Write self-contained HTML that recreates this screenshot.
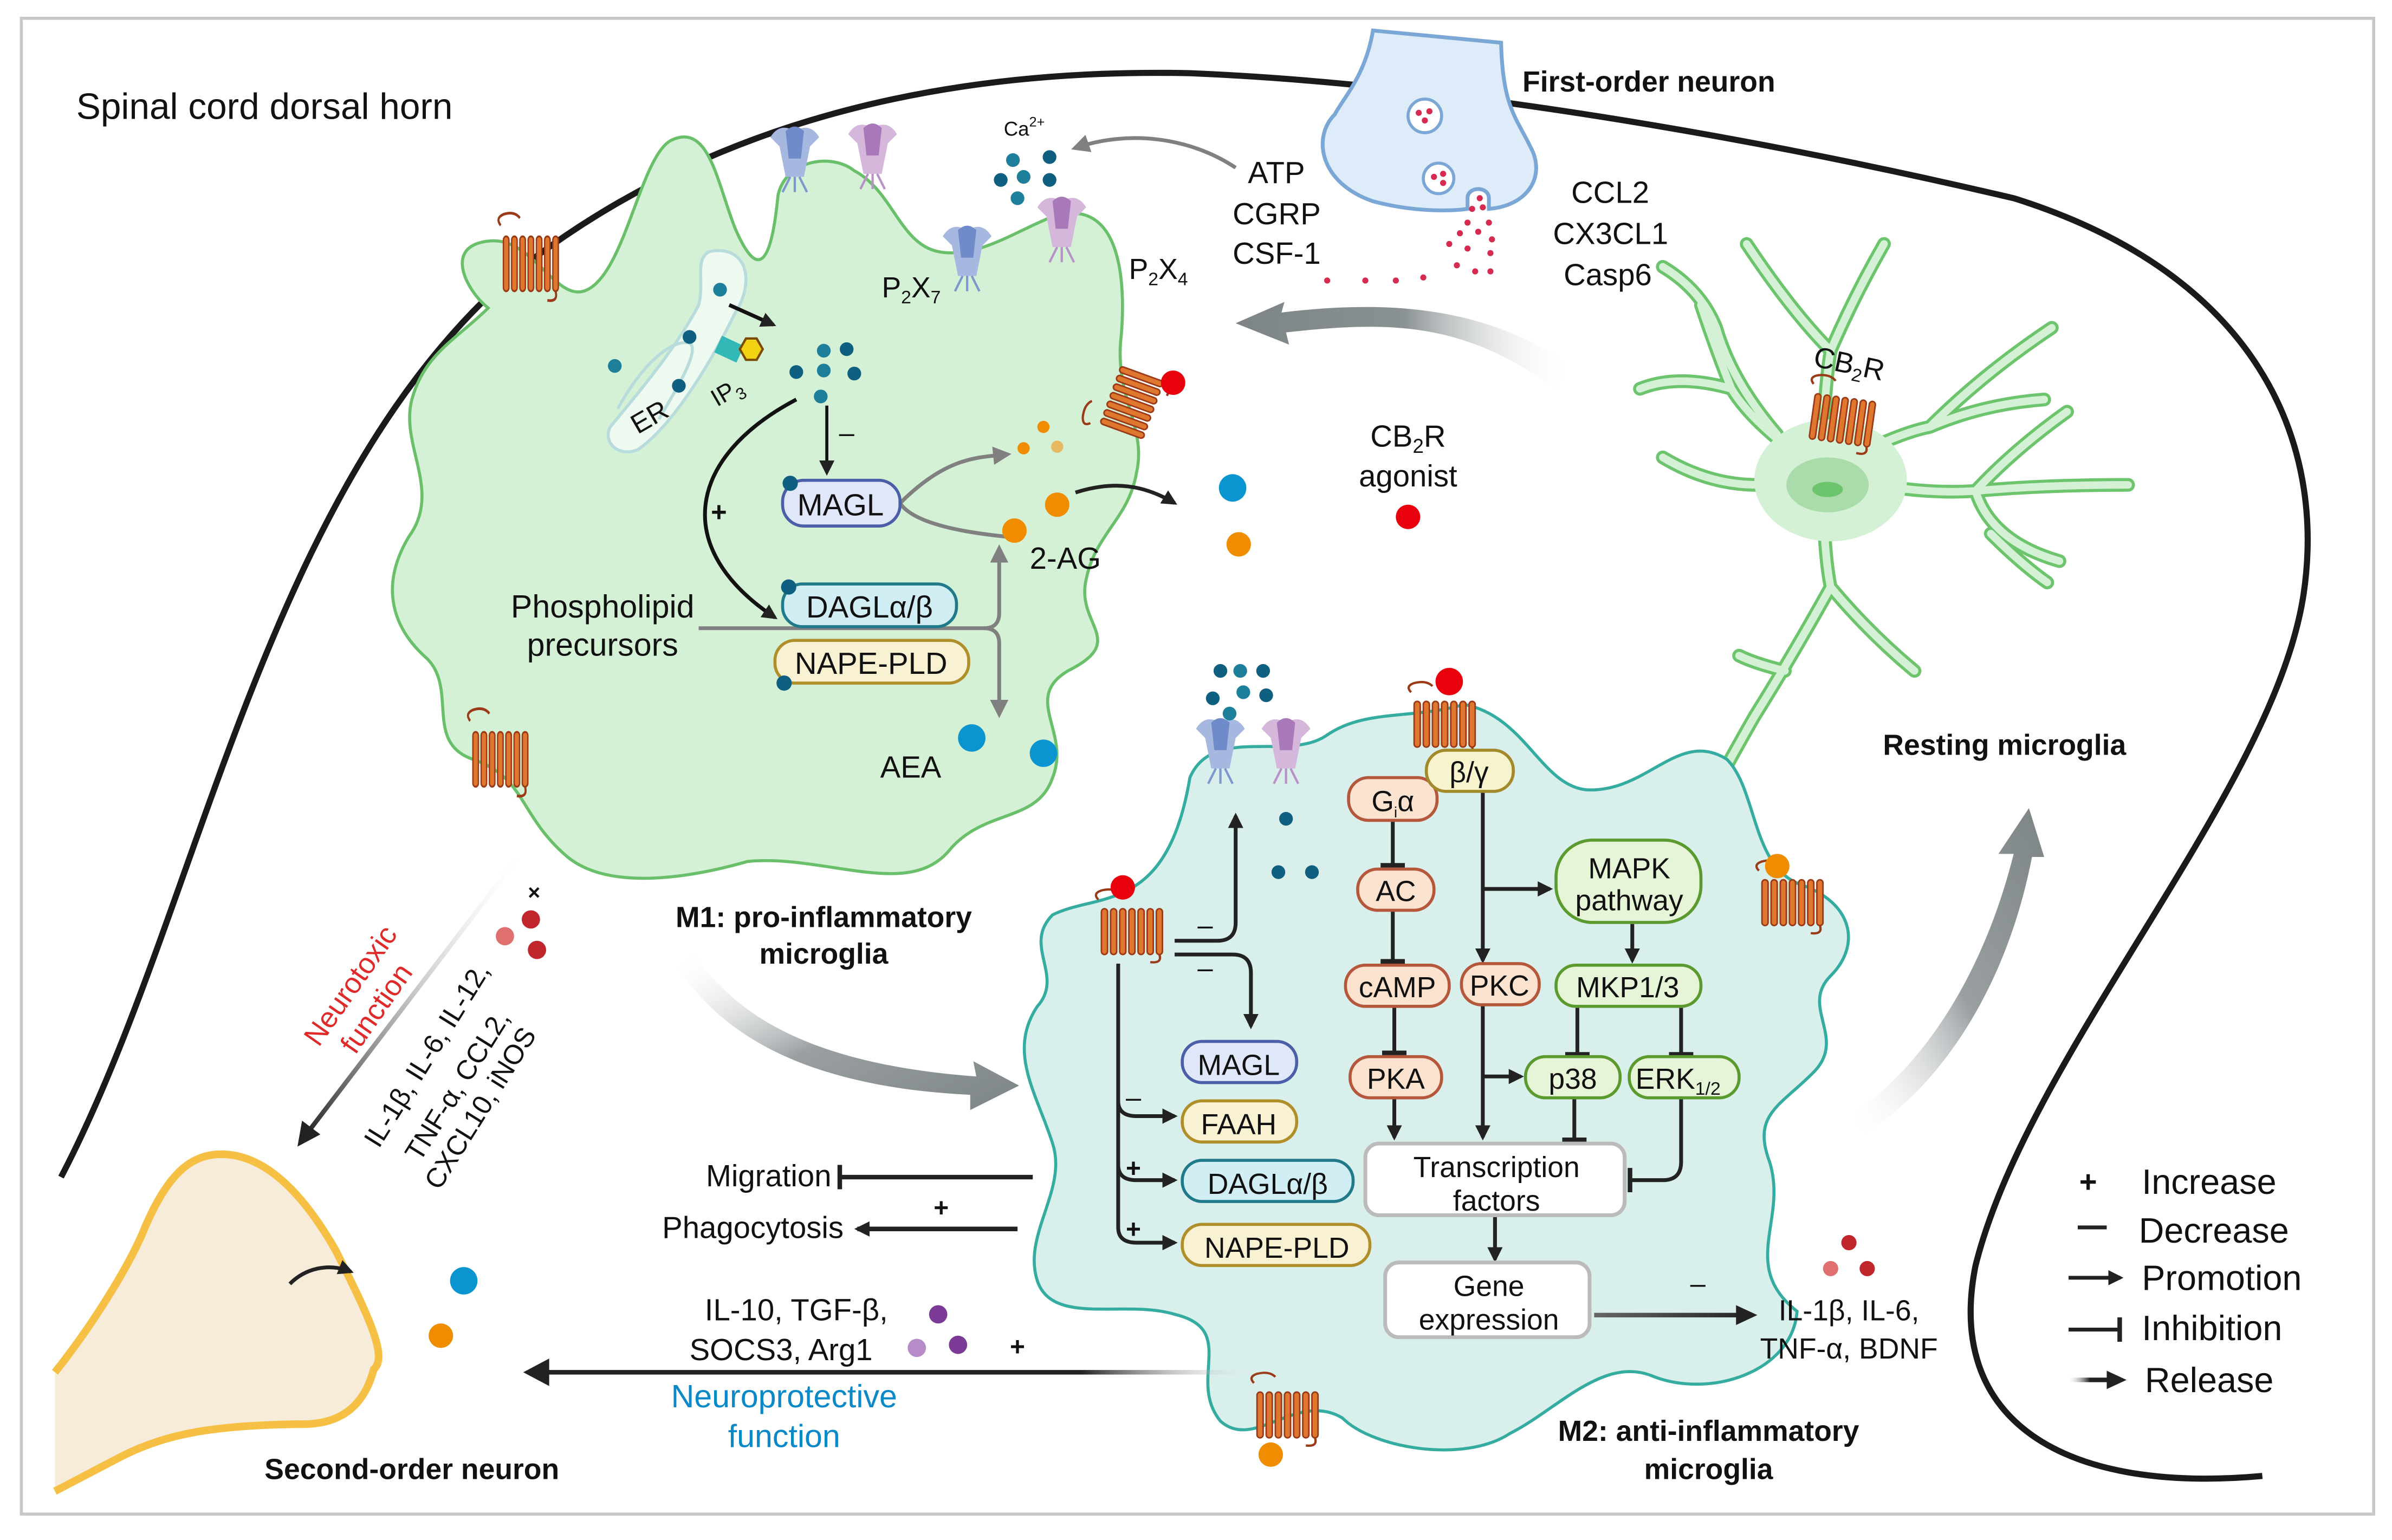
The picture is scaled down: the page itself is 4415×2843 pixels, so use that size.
<!DOCTYPE html>
<html><head><meta charset="utf-8"><style>
html,body{margin:0;padding:0;background:#fff}
svg{display:block}
text{font-family:"Liberation Sans Narrow","Liberation Sans",sans-serif;fill:#111}
.b{font-weight:bold}
</style></head><body>
<svg width="4415" height="2843" viewBox="0 0 1568 1010" preserveAspectRatio="none" xmlns="http://www.w3.org/2000/svg">
<defs>
<g id="gpcr">
<path d="M-2,-6 q-4,-4 2,-6 q8,-2 12,2" fill="none" stroke="#9a3a17" stroke-width="1.5"/>
<g fill="#e0772f" stroke="#9a3a17" stroke-width="1">
<rect x="0" y="0" width="4" height="30" rx="2"/><rect x="6" y="0" width="4" height="30" rx="2"/>
<rect x="12" y="0" width="4" height="30" rx="2"/><rect x="18" y="0" width="4" height="30" rx="2"/>
<rect x="24" y="0" width="4" height="30" rx="2"/><rect x="30" y="0" width="4" height="30" rx="2"/>
<rect x="36" y="0" width="4" height="30" rx="2"/>
</g>
<path d="M38,30 q2,6 -6,5" fill="none" stroke="#9a3a17" stroke-width="1.5"/>
</g>
<g id="p2b">
<path d="M-16,-10 q6,-10 16,-4 q10,-6 16,4 l-6,6 l-4,20 h-12 l-4,-20z" fill="#a7b8e0"/>
<path d="M-6,-14 q6,-6 12,0 l-2,18 h-8z" fill="#6f8bc9"/>
<path d="M-3,16 l-5,10 M0,16 l0,10 M3,16 l5,10" stroke="#7d97cf" stroke-width="1.5"/>
</g>
<g id="p2p">
<path d="M-16,-10 q6,-10 16,-4 q10,-6 16,4 l-6,6 l-4,20 h-12 l-4,-20z" fill="#d5b7dc"/>
<path d="M-6,-14 q6,-6 12,0 l-2,18 h-8z" fill="#a878b8"/>
<path d="M-3,16 l-5,10 M0,16 l0,10 M3,16 l5,10" stroke="#b892c6" stroke-width="1.5"/>
</g>
<marker id="ah" markerWidth="10" markerHeight="10" refX="8" refY="5" orient="auto" markerUnits="userSpaceOnUse"><path d="M0,0 L10,5 L0,10z" fill="#222"/></marker>
<marker id="ahg" markerWidth="12" markerHeight="12" refX="9" refY="6" orient="auto" markerUnits="userSpaceOnUse"><path d="M0,0 L12,6 L0,12z" fill="#808080"/></marker>
<marker id="tb" markerWidth="4" markerHeight="16" refX="2" refY="8" orient="auto" markerUnits="userSpaceOnUse"><rect x="0" y="0" width="3" height="16" fill="#222"/></marker>
<linearGradient id="g1" x1="0" y1="0" x2="1" y2="0"><stop offset="0" stop-color="#7d8486"/><stop offset="0.5" stop-color="#8a9193"/><stop offset="1" stop-color="#fff" stop-opacity="0"/></linearGradient>
<linearGradient id="g2" x1="0" y1="0" x2="1" y2="1"><stop offset="0" stop-color="#fff" stop-opacity="0"/><stop offset="0.5" stop-color="#9aa0a2"/><stop offset="1" stop-color="#7d8486"/></linearGradient>
<linearGradient id="g3" x1="0" y1="1" x2="1" y2="0"><stop offset="0" stop-color="#fff" stop-opacity="0"/><stop offset="0.5" stop-color="#9aa0a2"/><stop offset="1" stop-color="#7d8486"/></linearGradient>
<linearGradient id="g4" x1="1" y1="0" x2="0" y2="1"><stop offset="0" stop-color="#fff" stop-opacity="0"/><stop offset="1" stop-color="#222"/></linearGradient>
<linearGradient id="g5" gradientUnits="userSpaceOnUse" x1="830" y1="0" x2="345" y2="0"><stop offset="0" stop-color="#fff" stop-opacity="0"/><stop offset="0.25" stop-color="#222"/><stop offset="1" stop-color="#222"/></linearGradient>
<linearGradient id="g6" gradientUnits="userSpaceOnUse" x1="1355" y1="0" x2="1385" y2="0"><stop offset="0" stop-color="#fff" stop-opacity="0"/><stop offset="0.5" stop-color="#222"/><stop offset="1" stop-color="#222"/></linearGradient>
<linearGradient id="g7" gradientUnits="userSpaceOnUse" x1="1045" y1="0" x2="1150" y2="0"><stop offset="0" stop-color="#666"/><stop offset="1" stop-color="#222"/></linearGradient>
</defs>

<rect x="14" y="12" width="1542" height="981" fill="#fff" stroke="#c8c8c8" stroke-width="2"/>

<!-- spinal cord outline -->
<path d="M40,772 C130,600 170,330 330,185 C470,70 640,45 780,48 C950,55 1150,90 1320,130 C1480,180 1525,290 1510,390 C1490,520 1330,690 1295,830 C1275,930 1350,980 1483,968" fill="none" stroke="#1a1a1a" stroke-width="4"/>
<text x="50" y="78" style="font-family:'Liberation Sans',sans-serif;font-size:24px">Spinal cord dorsal horn</text>

<!-- First-order neuron -->
<path d="M900,20 C895,50 880,65 875,75 C860,90 865,120 900,132 C930,140 955,138 962,137 L962,130 C962,122 976,122 976,130 L976,137 C1000,135 1012,118 1005,100 C995,78 985,72 984,28 Z" fill="#deebf8" stroke="#7ba7d6" stroke-width="2.5"/>
<circle cx="934" cy="76" r="11" fill="#fff" stroke="#7ba7d6" stroke-width="2"/>
<circle cx="943" cy="117" r="10" fill="#fff" stroke="#7ba7d6" stroke-width="2"/>
<g fill="#d62a50"><circle cx="930" cy="74" r="2"/><circle cx="937" cy="73" r="2"/><circle cx="934" cy="79" r="2"/><circle cx="940" cy="116" r="2"/><circle cx="946" cy="114" r="2"/><circle cx="946" cy="120" r="2"/>
<circle cx="970" cy="130" r="2"/><circle cx="965" cy="137" r="2"/><circle cx="972" cy="136" r="2"/><circle cx="962" cy="146" r="2"/><circle cx="976" cy="146" r="2"/><circle cx="957" cy="153" r="2"/><circle cx="969" cy="152" r="2"/><circle cx="978" cy="157" r="2"/><circle cx="950" cy="160" r="2"/><circle cx="962" cy="163" r="2"/><circle cx="977" cy="166" r="2"/><circle cx="955" cy="174" r="2"/><circle cx="967" cy="178" r="2"/><circle cx="977" cy="178" r="2"/><circle cx="933" cy="182" r="2"/><circle cx="915" cy="184" r="2"/><circle cx="895" cy="184" r="2"/><circle cx="870" cy="184" r="2"/></g>
<text x="998" y="60" class="b" style="font-size:19px">First-order neuron</text>
<text x="818" y="120" style="font-size:20px">ATP</text>
<text x="808" y="147" style="font-size:20px">CGRP</text>
<text x="808" y="173" style="font-size:20px">CSF-1</text>
<text x="1030" y="133" style="font-size:20px">CCL2</text>
<text x="1018" y="160" style="font-size:20px">CX3CL1</text>
<text x="1025" y="187" style="font-size:20px">Casp6</text>
<path d="M810,110 C780,90 740,85 705,97" fill="none" stroke="#808080" stroke-width="2.5" marker-end="url(#ahg)"/>
<text x="658" y="89" style="font-size:13px">Ca<tspan dy="-6" style="font-size:9px">2+</tspan></text>
<g fill="#1d7f9a"><circle cx="664" cy="105" r="4.5"/><circle cx="688" cy="103" r="4.5" fill="#0f5f80"/><circle cx="656" cy="118" r="4.5" fill="#0f5f80"/><circle cx="671" cy="116" r="4.5"/><circle cx="688" cy="118" r="4.5" fill="#0f5f80"/><circle cx="667" cy="130" r="4.5"/></g>

<!-- big gray arrow top (resting -> M1) -->
<path d="M1030,240 C980,205 920,195 840,205 L842,198 L810,212 L845,226 L843,218 C915,210 960,212 1020,255 Z" fill="url(#g1)"/>

<!-- M1 microglia -->
<path d="M440,92 C465,80 470,120 482,150 C495,180 505,180 510,128 C515,105 545,100 560,112 C585,125 590,160 615,165 C640,170 665,152 690,142 C735,128 738,185 735,220 C730,260 752,280 745,310 C740,340 718,350 712,380 C705,410 740,420 700,440 C670,458 702,480 690,510 C680,540 645,530 622,558 C595,590 540,560 490,565 C455,575 400,585 372,562 C340,535 345,510 310,498 C278,487 300,452 280,432 C255,410 250,382 268,352 C290,322 262,292 270,262 C278,232 300,222 320,202 C305,190 290,160 322,158 C350,156 365,200 385,190 C410,178 420,102 440,92 Z" fill="#d4f1d6" stroke="#6abf6a" stroke-width="2"/>
<!-- ER -->
<path d="M465,165 C490,160 495,185 482,205 C465,240 440,280 418,295 C405,300 395,290 400,280 C425,250 445,225 458,200 C462,185 455,170 465,165Z" fill="#eef9f0" stroke="#b8dcdc" stroke-width="2"/>
<path d="M405,268 C420,240 440,222 452,225 C460,230 440,260 432,275" fill="none" stroke="#b8dcdc" stroke-width="2"/>
<text x="418" y="285" transform="rotate(-30 418 285)" style="font-size:18px">ER</text>
<text x="470" y="267" transform="rotate(-30 470 267)" style="font-size:16px">IP<tspan dy="4" style="font-size:11px">3</tspan></text>
<rect x="470" y="223" width="16" height="12" fill="#33b8b8" transform="rotate(25 478 229)"/>
<polygon points="489,222 496,222 500,229 496,236 489,236 485,229" fill="#f3d214" stroke="#7a4a00" stroke-width="1.5"/>
<g fill="#1d7f9a"><circle cx="472" cy="190" r="4.5"/><circle cx="452" cy="221" r="4.5" fill="#0f5f80"/><circle cx="403" cy="240" r="4.5"/><circle cx="445" cy="253" r="4.5" fill="#0f5f80"/>
<circle cx="540" cy="230" r="4.5"/><circle cx="555" cy="229" r="4.5" fill="#0f5f80"/><circle cx="522" cy="244" r="4.5" fill="#0f5f80"/><circle cx="540" cy="243" r="4.5"/><circle cx="560" cy="245" r="4.5" fill="#0f5f80"/><circle cx="538" cy="260" r="4.5"/></g>
<line x1="478" y1="200" x2="507" y2="213" stroke="#111" stroke-width="2.5" marker-end="url(#ah)"/>
<line x1="542" y1="266" x2="542" y2="310" stroke="#111" stroke-width="2" marker-end="url(#ah)"/>
<text x="550" y="290" style="font-size:18px">–</text>
<path d="M522,262 C450,300 440,360 508,405" fill="none" stroke="#111" stroke-width="2.5" marker-end="url(#ah)"/>
<text x="466" y="342" class="b" style="font-size:18px">+</text>
<!-- receptors M1 -->
<use href="#p2b" x="521" y="100"/><use href="#p2p" x="572" y="98"/>
<use href="#p2b" x="634" y="165"/><use href="#p2p" x="696" y="146"/>
<text x="578" y="195" style="font-size:19px">P<tspan dy="4" style="font-size:12px">2</tspan><tspan dy="-4">X</tspan><tspan dy="4" style="font-size:12px">7</tspan></text>
<text x="740" y="183" style="font-size:19px">P<tspan dy="4" style="font-size:12px">2</tspan><tspan dy="-4">X</tspan><tspan dy="4" style="font-size:12px">4</tspan></text>
<g transform="translate(330,155) scale(0.9,1.2)"><use href="#gpcr"/></g>
<g transform="translate(310,480) scale(0.9,1.2)"><use href="#gpcr"/></g>
<g transform="translate(742,264) rotate(-70)"><use href="#gpcr" x="-20" y="-15"/></g>
<circle cx="769" cy="251" r="8" fill="#e8000d"/>
<!-- M1 enzymes -->
<path d="M590,330 C620,300 640,300 660,298" fill="none" stroke="#808080" stroke-width="2.5" marker-end="url(#ahg)"/>
<path d="M590,330 C600,345 640,350 660,352" fill="none" stroke="#808080" stroke-width="2.5"/>
<rect x="513" y="315" width="77" height="30" rx="14" fill="#e0e7f8" stroke="#4b5fa8" stroke-width="2"/>
<text x="551" y="338" text-anchor="middle" style="font-size:20px">MAGL</text>
<circle cx="518" cy="317" r="5" fill="#0f5f80"/>
<path d="M458,412 H645 Q655,412 655,402 V360" fill="none" stroke="#808080" stroke-width="2.5" marker-end="url(#ahg)"/>
<path d="M645,412 Q655,412 655,422 V468" fill="none" stroke="#808080" stroke-width="2.5" marker-end="url(#ahg)"/>
<rect x="513" y="383" width="114" height="28" rx="13" fill="#d0eef4" stroke="#217a8a" stroke-width="2"/>
<text x="570" y="405" text-anchor="middle" style="font-size:20px">DAGLα/β</text>
<circle cx="517" cy="385" r="5" fill="#0f5f80"/>
<rect x="508" y="420" width="127" height="28" rx="13" fill="#f8f2d2" stroke="#b08f2a" stroke-width="2"/>
<text x="571" y="442" text-anchor="middle" style="font-size:20px">NAPE-PLD</text>
<circle cx="514" cy="448" r="5" fill="#0f5f80"/>
<text x="395" y="405" text-anchor="middle" style="font-size:21px">Phospholipid</text>
<text x="395" y="430" text-anchor="middle" style="font-size:21px">precursors</text>
<g fill="#f08c00"><circle cx="684" cy="280" r="4"/><circle cx="671" cy="294" r="4"/><circle cx="693" cy="293" r="4" fill="#e8b860"/><circle cx="693" cy="331" r="8"/><circle cx="665" cy="348" r="8"/><circle cx="812" cy="357" r="8"/></g>
<text x="675" y="373" style="font-size:20px">2-AG</text>
<path d="M705,323 C730,315 750,318 770,330" fill="none" stroke="#222" stroke-width="2.5" marker-end="url(#ah)"/>
<g fill="#0a95d0"><circle cx="808" cy="320" r="9"/><circle cx="637" cy="484" r="9"/><circle cx="684" cy="494" r="9"/></g>
<text x="577" y="510" style="font-size:20px">AEA</text>
<text x="923" y="293" text-anchor="middle" style="font-size:20px">CB<tspan dy="4" style="font-size:13px">2</tspan><tspan dy="-4">R</tspan></text>
<text x="923" y="319" text-anchor="middle" style="font-size:20px">agonist</text>
<circle cx="923" cy="339" r="8" fill="#e8000d"/>
<text x="540" y="608" text-anchor="middle" class="b" style="font-size:19px">M1: pro-inflammatory</text>
<text x="540" y="632" text-anchor="middle" class="b" style="font-size:19px">microglia</text>

<!-- resting microglia -->
<g fill="none" stroke-linecap="round" stroke-linejoin="round">
<g stroke="#6cc46c" stroke-width="9">
<path d="M1195,310 Q1150,280 1135,255 Q1125,230 1115,200 M1135,255 Q1100,245 1075,255 M1165,285 Q1135,250 1125,215 Q1115,190 1090,175 M1195,310 Q1195,260 1200,230 Q1215,195 1235,160 M1200,230 Q1175,205 1145,160 M1195,310 Q1240,285 1265,280 Q1300,245 1345,215 M1265,280 Q1300,265 1340,262 M1195,310 Q1250,325 1295,322 Q1340,318 1395,318 M1295,322 Q1320,295 1355,270 M1295,322 Q1305,355 1350,368 M1305,350 Q1325,370 1342,382 M1195,310 Q1195,360 1200,385 Q1225,415 1255,440 M1200,385 Q1175,430 1150,470 Q1130,505 1120,525 M1170,440 Q1150,435 1140,430 M1195,310 Q1140,330 1090,300"/>
</g>
<g stroke="#d4f1d6" stroke-width="5">
<path d="M1195,310 Q1150,280 1135,255 Q1125,230 1115,200 M1135,255 Q1100,245 1075,255 M1165,285 Q1135,250 1125,215 Q1115,190 1090,175 M1195,310 Q1195,260 1200,230 Q1215,195 1235,160 M1200,230 Q1175,205 1145,160 M1195,310 Q1240,285 1265,280 Q1300,245 1345,215 M1265,280 Q1300,265 1340,262 M1195,310 Q1250,325 1295,322 Q1340,318 1395,318 M1295,322 Q1320,295 1355,270 M1295,322 Q1305,355 1350,368 M1305,350 Q1325,370 1342,382 M1195,310 Q1195,360 1200,385 Q1225,415 1255,440 M1200,385 Q1175,430 1150,470 Q1130,505 1120,525 M1170,440 Q1150,435 1140,430 M1195,310 Q1140,330 1090,300"/>
</g></g>
<ellipse cx="1200" cy="315" rx="50" ry="40" fill="#d4f1d6"/>
<ellipse cx="1198" cy="318" rx="27" ry="18" fill="#a9dcaa"/>
<ellipse cx="1198" cy="321" rx="10" ry="5" fill="#6cc46c"/>
<g transform="translate(1190,258) rotate(8)"><use href="#gpcr" x="0" y="0"/></g>
<text x="1188" y="240" transform="rotate(12 1188 240)" style="font-size:19px">CB<tspan dy="4" style="font-size:12px">2</tspan><tspan dy="-4">R</tspan></text>
<text x="1314" y="495" text-anchor="middle" class="b" style="font-family:'Liberation Sans',sans-serif;font-size:19px">Resting microglia</text>

<!-- M1 -> M2 arrow -->
<path d="M455,625 C490,680 560,700 640,706 L638,696 L668,712 L636,728 L636,718 C550,714 480,690 445,635 Z" fill="url(#g2)"/>
<!-- M2 -> resting arrow -->
<path d="M1215,730 C1260,700 1300,640 1320,560 L1310,560 L1330,530 L1340,562 L1332,562 C1315,650 1270,715 1220,745 Z" fill="url(#g3)"/>

<!-- M2 microglia -->
<path d="M690,600 C720,585 765,600 780,510 C795,475 845,500 870,482 C895,465 925,472 960,462 C1000,470 1010,515 1040,518 C1080,520 1100,478 1132,498 C1152,518 1148,568 1180,580 C1215,592 1220,620 1200,640 C1180,660 1210,680 1190,702 C1168,725 1148,730 1160,762 C1172,800 1140,830 1178,860 C1175,900 1120,918 1082,902 C1050,890 1020,925 990,940 C960,960 900,950 880,930 C850,912 822,952 800,932 C778,905 812,872 770,862 C738,852 690,870 680,840 C670,810 700,780 690,750 C680,718 660,690 680,660 C698,640 670,620 690,600 Z" fill="#d9efec" stroke="#35aca0" stroke-width="2"/>
<!-- M2 receptors -->
<use href="#p2b" x="800" y="488"/><use href="#p2p" x="843" y="488"/>
<g fill="#1d7f9a"><circle cx="800" cy="440" r="4.5" fill="#0f5f80"/><circle cx="813" cy="440" r="4.5"/><circle cx="828" cy="440" r="4.5" fill="#0f5f80"/><circle cx="795" cy="458" r="4.5" fill="#0f5f80"/><circle cx="815" cy="454" r="4.5"/><circle cx="830" cy="456" r="4.5" fill="#0f5f80"/><circle cx="806" cy="468" r="4.5"/><circle cx="843" cy="537" r="4.5" fill="#0f5f80"/><circle cx="838" cy="572" r="4.5" fill="#0f5f80"/><circle cx="860" cy="572" r="4.5" fill="#0f5f80"/></g>
<use href="#gpcr" x="927" y="460"/>
<circle cx="950" cy="447" r="9" fill="#e8000d"/>
<use href="#gpcr" x="722" y="596"/>
<circle cx="736" cy="582" r="8" fill="#e8000d"/>
<use href="#gpcr" x="1155" y="577"/>
<circle cx="1165" cy="568" r="8" fill="#f08c00"/>
<use href="#gpcr" x="824" y="913"/>
<circle cx="833" cy="954" r="8" fill="#f08c00"/>

<!-- M2 left pathway -->
<path d="M770,617 H798 Q810,617 810,605 V535" fill="none" stroke="#222" stroke-width="2.5" marker-end="url(#ah)"/>
<path d="M770,626 H808 Q820,626 820,638 V673" fill="none" stroke="#222" stroke-width="2.5" marker-end="url(#ah)"/>
<text x="785" y="613" style="font-size:18px">–</text>
<text x="785" y="641" style="font-size:18px">–</text>
<path d="M733,632 V805 Q733,815 745,815 H770" fill="none" stroke="#222" stroke-width="2.5" marker-end="url(#ah)"/>
<path d="M733,722 Q733,732 745,732 H770" fill="none" stroke="#222" stroke-width="2.5" marker-end="url(#ah)"/>
<path d="M733,764 Q733,774 745,774 H770" fill="none" stroke="#222" stroke-width="2.5" marker-end="url(#ah)"/>
<text x="738" y="726" style="font-size:18px">–</text>
<text x="738" y="772" class="b" style="font-size:17px">+</text>
<text x="738" y="812" class="b" style="font-size:17px">+</text>
<rect x="775" y="683" width="75" height="27" rx="13" fill="#e0e7f8" stroke="#4b5fa8" stroke-width="2"/>
<text x="812" y="705" text-anchor="middle" style="font-size:19px">MAGL</text>
<rect x="775" y="722" width="75" height="27" rx="13" fill="#f8f2d2" stroke="#b08f2a" stroke-width="2"/>
<text x="812" y="744" text-anchor="middle" style="font-size:19px">FAAH</text>
<rect x="775" y="761" width="112" height="27" rx="13" fill="#d0eef4" stroke="#217a8a" stroke-width="2"/>
<text x="831" y="783" text-anchor="middle" style="font-size:19px">DAGLα/β</text>
<rect x="775" y="803" width="123" height="27" rx="13" fill="#f8f2d2" stroke="#b08f2a" stroke-width="2"/>
<text x="837" y="825" text-anchor="middle" style="font-size:19px">NAPE-PLD</text>

<!-- M2 signalling -->
<g stroke="#222" stroke-width="2.5" fill="none">
<line x1="913" y1="538" x2="913" y2="568" marker-end="url(#tb)"/>
<line x1="913" y1="597" x2="913" y2="631" marker-end="url(#tb)"/>
<line x1="914" y1="660" x2="914" y2="691" marker-end="url(#tb)"/>
<line x1="914" y1="721" x2="914" y2="746" marker-end="url(#ah)"/>
<line x1="972" y1="519" x2="972" y2="630" marker-end="url(#ah)"/>
<line x1="972" y1="583" x2="1016" y2="583" marker-end="url(#ah)"/>
<line x1="972" y1="659" x2="972" y2="746" marker-end="url(#ah)"/>
<line x1="972" y1="706" x2="997" y2="706" marker-end="url(#ah)"/>
<line x1="1070" y1="606" x2="1070" y2="630" marker-end="url(#ah)"/>
<line x1="1034" y1="661" x2="1034" y2="692" marker-end="url(#tb)"/>
<line x1="1102" y1="661" x2="1102" y2="692" marker-end="url(#tb)"/>
<line x1="1032" y1="721" x2="1032" y2="748" marker-end="url(#tb)"/>
<path d="M1102,721 V762 Q1102,774 1090,774 H1068" marker-end="url(#tb)"/>
<line x1="980" y1="797" x2="980" y2="826" marker-end="url(#ah)"/>
</g>
<rect x="884" y="510" width="58" height="28" rx="13" fill="#fbe3cf" stroke="#b5573a" stroke-width="2"/>
<text x="913" y="532" text-anchor="middle" style="font-size:19px">G<tspan dy="4" style="font-size:10px">i</tspan><tspan dy="-4">α</tspan></text>
<rect x="935" y="492" width="57" height="27" rx="13" fill="#f6f3cd" stroke="#a28a2a" stroke-width="2"/>
<text x="963" y="513" text-anchor="middle" style="font-size:19px">β/γ</text>
<rect x="890" y="570" width="50" height="27" rx="13" fill="#fbe3cf" stroke="#b5573a" stroke-width="2"/>
<text x="915" y="591" text-anchor="middle" style="font-size:19px">AC</text>
<rect x="882" y="633" width="68" height="27" rx="13" fill="#fbe3cf" stroke="#b5573a" stroke-width="2"/>
<text x="916" y="654" text-anchor="middle" style="font-size:19px">cAMP</text>
<rect x="958" y="632" width="51" height="27" rx="13" fill="#fbe3cf" stroke="#b5573a" stroke-width="2"/>
<text x="983" y="653" text-anchor="middle" style="font-size:19px">PKC</text>
<rect x="885" y="693" width="60" height="27" rx="13" fill="#fbe3cf" stroke="#b5573a" stroke-width="2"/>
<text x="915" y="714" text-anchor="middle" style="font-size:19px">PKA</text>
<rect x="1020" y="551" width="95" height="54" rx="24" fill="#e6f4d7" stroke="#5b9a2f" stroke-width="2"/>
<text x="1068" y="576" text-anchor="middle" style="font-size:19px">MAPK</text>
<text x="1068" y="597" text-anchor="middle" style="font-size:19px">pathway</text>
<rect x="1020" y="633" width="95" height="27" rx="13" fill="#e6f4d7" stroke="#5b9a2f" stroke-width="2"/>
<text x="1067" y="654" text-anchor="middle" style="font-size:19px">MKP1/3</text>
<rect x="1000" y="693" width="62" height="27" rx="13" fill="#e6f4d7" stroke="#5b9a2f" stroke-width="2"/>
<text x="1031" y="714" text-anchor="middle" style="font-size:19px">p38</text>
<rect x="1068" y="693" width="72" height="27" rx="13" fill="#e6f4d7" stroke="#5b9a2f" stroke-width="2"/>
<text x="1100" y="714" text-anchor="middle" style="font-size:19px">ERK<tspan dy="4" style="font-size:12px">1/2</tspan></text>
<rect x="895" y="750" width="170" height="47" rx="9" fill="#fff" stroke="#bbb" stroke-width="2.5"/>
<text x="981" y="772" text-anchor="middle" style="font-size:19px">Transcription</text>
<text x="981" y="794" text-anchor="middle" style="font-size:19px">factors</text>
<rect x="908" y="828" width="134" height="49" rx="9" fill="#fff" stroke="#bbb" stroke-width="2.5"/>
<text x="976" y="850" text-anchor="middle" style="font-size:19px">Gene</text>
<text x="976" y="872" text-anchor="middle" style="font-size:19px">expression</text>
<rect x="1045" y="861" width="95" height="3" fill="url(#g7)"/>
<path d="M1152,862.5 L1138,856 L1138,869z" fill="#222"/>
<text x="1108" y="848" style="font-size:18px">–</text>
<g><circle cx="1212" cy="815" r="5" fill="#c0262c"/><circle cx="1200" cy="832" r="5" fill="#e07070"/><circle cx="1224" cy="832" r="5" fill="#c0262c"/></g>
<text x="1212" y="866" text-anchor="middle" style="font-size:19px">IL-1β, IL-6,</text>
<text x="1212" y="891" text-anchor="middle" style="font-size:19px">TNF-α, BDNF</text>
<text x="1120" y="945" text-anchor="middle" class="b" style="font-size:19px">M2: anti-inflammatory</text>
<text x="1120" y="970" text-anchor="middle" class="b" style="font-size:19px">microglia</text>

<!-- left outputs -->
<line x1="677" y1="772" x2="550" y2="772" stroke="#222" stroke-width="3" marker-end="url(#tb)"/>
<text x="545" y="778" text-anchor="end" style="font-size:20px">Migration</text>
<line x1="667" y1="806" x2="562" y2="806" stroke="#222" stroke-width="3" marker-end="url(#ah)"/>
<text x="612" y="798" class="b" style="font-size:17px">+</text>
<text x="553" y="812" text-anchor="end" style="font-size:20px">Phagocytosis</text>
<rect x="355" y="898.5" width="475" height="3" fill="url(#g5)"/>
<path d="M343,900 L360,891 L360,909z" fill="#222"/>
<text x="522" y="866" text-anchor="middle" style="font-size:20px">IL-10, TGF-β,</text>
<text x="512" y="892" text-anchor="middle" style="font-size:20px">SOCS3, Arg1</text>
<g><circle cx="615" cy="862" r="6" fill="#7a3a96"/><circle cx="601" cy="884" r="6" fill="#b58cc8"/><circle cx="628" cy="882" r="6" fill="#7a3a96"/></g>
<text x="662" y="889" class="b" style="font-size:17px">+</text>
<text x="514" y="923" text-anchor="middle" style="font-size:21px;fill:#0a88c8">Neuroprotective</text>
<text x="514" y="949" text-anchor="middle" style="font-size:21px;fill:#0a88c8">function</text>

<!-- neurotoxic -->
<path d="M345,555 L200,745" stroke="url(#g4)" stroke-width="3"/>
<path d="M195,752 L198,735 L210,744z" fill="#222"/>
<text x="235" y="650" transform="rotate(-55 235 650)" text-anchor="middle" style="font-size:19px;fill:#e02a2a">Neurotoxic</text>
<text x="252" y="665" transform="rotate(-55 252 665)" text-anchor="middle" style="font-size:19px;fill:#e02a2a">function</text>
<text x="285" y="695" transform="rotate(-58 285 695)" text-anchor="middle" style="font-size:18px">IL-1β, IL-6, IL-12,</text>
<text x="305" y="715" transform="rotate(-58 305 715)" text-anchor="middle" style="font-size:18px">TNF-α, CCL2,</text>
<text x="320" y="730" transform="rotate(-58 320 730)" text-anchor="middle" style="font-size:18px">CXCL10, iNOS</text>
<text x="346" y="590" class="b" style="font-size:14px">×</text>
<circle cx="348" cy="603" r="6" fill="#c0262c"/><circle cx="331" cy="614" r="6" fill="#e07070"/><circle cx="352" cy="623" r="6" fill="#c0262c"/>

<!-- second order neuron -->
<path d="M36,900 C60,870 85,830 95,805 C110,770 125,757 145,757 C175,757 200,785 220,820 C240,860 255,890 245,898 C238,925 220,935 195,934 C140,935 110,940 80,955 L36,978 Z" fill="#f7ecda"/>
<path d="M36,900 C60,870 85,830 95,805 C110,770 125,757 145,757 C175,757 200,785 220,820 C240,860 255,890 245,898 C238,925 220,935 195,934 C140,935 110,940 80,955 L36,978" fill="none" stroke="#f6c044" stroke-width="5"/>
<path d="M190,842 C200,832 215,828 230,834" fill="none" stroke="#222" stroke-width="2.5" marker-end="url(#ah)"/>
<circle cx="304" cy="840" r="9" fill="#0a95d0"/><circle cx="289" cy="876" r="8" fill="#f08c00"/>
<text x="270" y="970" text-anchor="middle" class="b" style="font-size:19px">Second-order neuron</text>

<!-- legend -->
<text x="1363" y="782" class="b" style="font-size:20px">+</text><text x="1404" y="783" style="font-family:'Liberation Sans',sans-serif;font-size:23px">Increase</text>
<line x1="1362" y1="805" x2="1381" y2="805" stroke="#222" stroke-width="2.5"/><text x="1402" y="815" style="font-family:'Liberation Sans',sans-serif;font-size:23px">Decrease</text>
<line x1="1356" y1="838" x2="1390" y2="838" stroke="#222" stroke-width="2.5" marker-end="url(#ah)"/><text x="1404" y="846" style="font-family:'Liberation Sans',sans-serif;font-size:23px">Promotion</text>
<line x1="1356" y1="872" x2="1390" y2="872" stroke="#222" stroke-width="2.5" marker-end="url(#tb)"/><text x="1404" y="879" style="font-family:'Liberation Sans',sans-serif;font-size:23px">Inhibition</text>
<rect x="1355" y="903.5" width="28" height="3" fill="url(#g6)"/><path d="M1394,905 L1381,899 L1381,911z" fill="#222"/><text x="1406" y="913" style="font-family:'Liberation Sans',sans-serif;font-size:23px">Release</text>
</svg>
</body></html>
